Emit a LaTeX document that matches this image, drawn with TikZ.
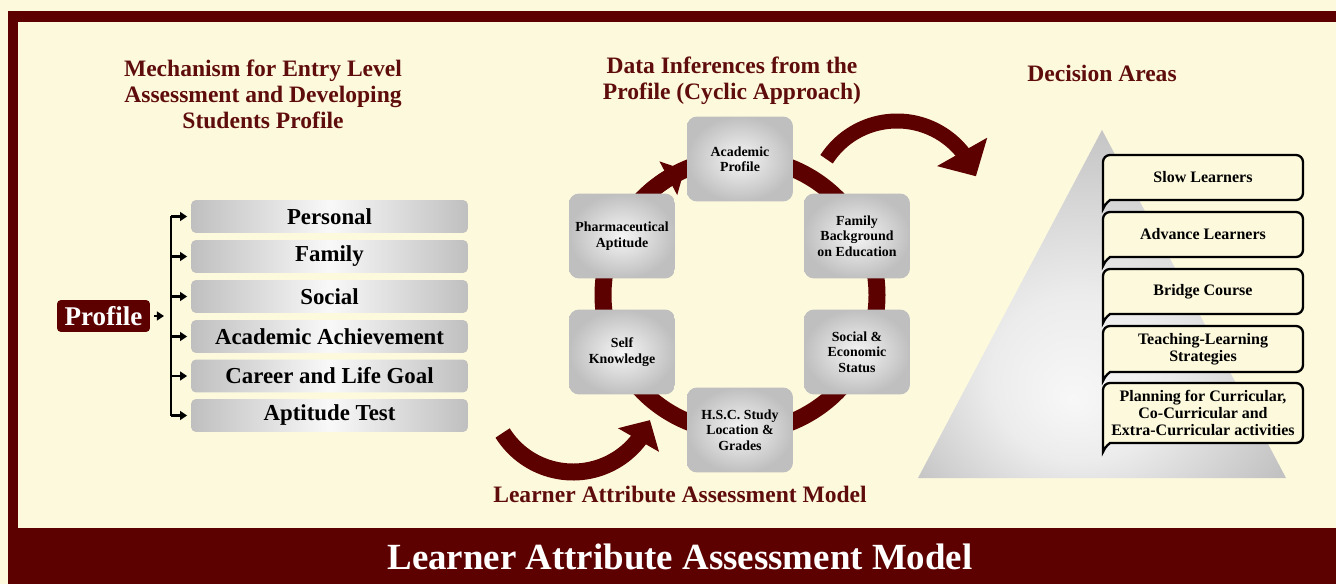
\documentclass[tikz,border=0pt]{standalone}
\usepackage{fontspec}
\setmainfont{Liberation Serif}
\usetikzlibrary{arrows.meta,bending}

\definecolor{maroon}{RGB}{92,0,0}
\definecolor{cream}{RGB}{253,249,221}
\definecolor{headred}{RGB}{95,12,12}

\pgfdeclareradialshading{pyramidlight}{\pgfpoint{-4bp}{-14bp}}{%
  color(0bp)=(gray!6); color(12bp)=(gray!15); color(32bp)=(gray!48); color(50bp)=(gray!52)}

\tikzset{
  heading/.style={text=headred, align=center, font=\fontsize{13.4}{14.8}\selectfont\bfseries},
  bar/.style={rounded corners=0.1cm, minimum width=5.54cm, minimum height=0.66cm, inner sep=0pt,
    left color=gray!50, right color=gray!50, middle color=gray!5, font=\fontsize{13}{14}\selectfont\bfseries},
  cyc/.style={rounded corners=0.2cm, minimum width=2.12cm, minimum height=1.7cm, inner sep=0pt,
    inner color=gray!8, outer color=gray!50, align=center, font=\fontsize{7.9}{8.8}\selectfont\bfseries},
  dbox/.style={minimum width=4cm, inner sep=0pt, align=center, font=\fontsize{9.1}{9.5}\selectfont\bfseries},
  callout/.style={draw=black, line width=1.3pt, fill=cream},
  tick/.style={line width=1.3pt, -{Triangle[length=4pt,width=5pt]}},
  ring/.style={maroon, line width=0.34cm},
}

\begin{document}
\begin{tikzpicture}[x=0.02cm, y=0.02cm]
  % frame
  \fill[cream] (0,0) rectangle (1336,-584);
  \useasboundingbox (0,0) rectangle (1336,-584);
  \fill[maroon] (8,-11) rectangle (1336,-584);
  \fill[cream] (18,-22) rectangle (1336,-528);
  \node[text=white, font=\fontsize{21}{24}\selectfont\bfseries] (banner) at (680,-557) {Learner Attribute Assessment Model};

  % headings
  \node[heading] (mechtitle) at (263,-94) {Mechanism for Entry Level\\Assessment and Developing\\Students Profile};
  \node[heading] (datatitle) at (732,-81) {Data Inferences from the\\Profile (Cyclic Approach)};
  \node[heading] (dectitle) at (1102,-73) {Decision Areas};
  \node[heading] (modeltitle) at (680,-494) {Learner Attribute Assessment Model};

  % profile and its parts
  \node[fill=maroon, text=white, rounded corners=0.08cm, minimum width=1.86cm, minimum height=0.64cm,
    inner sep=0pt, font=\fontsize{15.4}{16}\selectfont\bfseries] (profile) at (103.5,-316) {Profile};
  \node[bar] (pers) at (329.5,-216.5) {Personal};
  \node[bar] (fam) at (329.5,-256.5) {Family};
  \node[bar] (soc) at (329.5,-296.5) {Social};
  \node[bar] (acach) at (329.5,-336.5) {Academic Achievement};
  \node[bar] (career) at (329.5,-376) {Career and Life Goal};
  \node[bar] (apt) at (329.5,-415.5) {Aptitude Test};
  \coordinate (bus) at (171,-316);
  \draw[line width=1.3pt] (pers.west -| bus) -- (apt.west -| bus);
  \foreach \b in {pers,fam,soc,acach,career,apt}
    \draw[tick, shorten >=2pt] (\b.west -| bus) -- (\b.west);
  \draw[tick, shorten <=2pt, shorten >=4pt] (profile.east) -- (bus);

  % cycle
  \coordinate (ringc) at (740,-295);
  \draw[ring] (ringc) circle[radius=137];
  \draw[ring, -{Triangle[length=0.36cm, width=0.74cm]}] (ringc) ++(150:137) arc[start angle=150, end angle=114, radius=137];
  \node[cyc] (acadp) at (740,-159) {Academic\\Profile};
  \node[cyc] (famb) at (857,-236) {Family\\Background\\on Education};
  \node[cyc] (socec) at (857,-352) {Social \&\\Economic\\Status};
  \node[cyc] (hsc) at (740,-430) {H.S.C. Study\\Location \&\\Grades};
  \node[cyc] (selfk) at (622,-352) {Self\\Knowledge};
  \node[cyc] (pharm) at (622,-236) {Pharmaceutical\\Aptitude};

  % big curved arrows
  \coordinate (incurve) at (573,-389);
  \coordinate (outcurve) at (897,-205);
  \draw[maroon, line width=0.34cm, -{Triangle[length=0.46cm, width=0.92cm]}] (incurve) ++(212:83) arc[start angle=212, end angle=338, radius=83];
  \draw[maroon, line width=0.3cm, -{Triangle[length=0.56cm, width=1.12cm]}] (outcurve) ++(147:84) arc[start angle=147, end angle=20, radius=84];

  % decision areas
  \shade[shading=pyramidlight] (918,-478) -- (1102,-130) -- (1286,-478) -- cycle;
  \foreach \n/\y/\h/\t in {slow/177.5/22.5/{Slow Learners}, adv/234.5/22.5/{Advance Learners},
      bridge/291.5/22.5/{Bridge Course}, teach/349/23/{Teaching-Learning\\Strategies},
      plan/413/30/{Planning for Curricular,\\Co-Curricular and\\Extra-Curricular activities}} {
    \draw[callout, rounded corners=0.14cm] (1103,{-\y-\h-9}) -- (1103,{-\y+\h}) -- (1303,{-\y+\h})
      -- (1303,{-\y-\h}) -- (1117,{-\y-\h}) [sharp corners] to[out=180, in=70] (1103,{-\y-\h-9}) -- cycle;
    \node[dbox] (\n) at (1203,-\y) {\t};
  }
\end{tikzpicture}
\end{document}
